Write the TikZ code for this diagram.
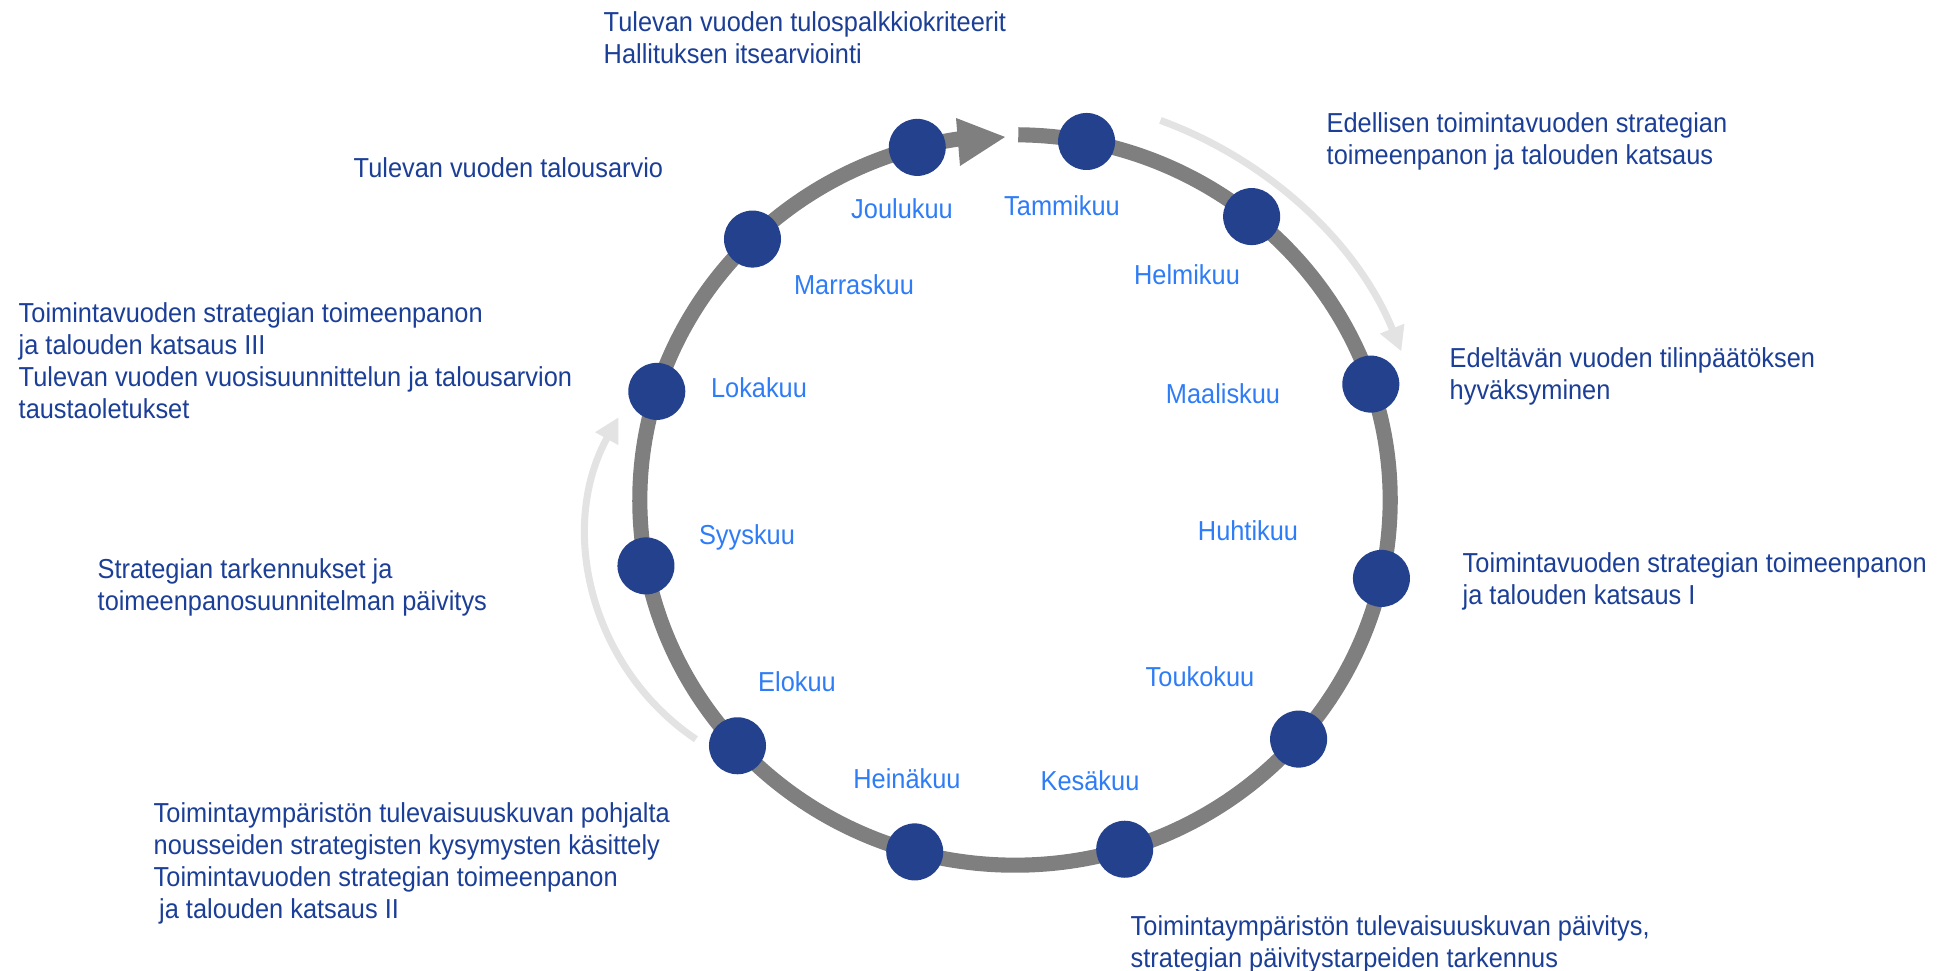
\documentclass[tikz,border=0pt]{standalone}
\usepackage{fontspec}
\setmainfont{Liberation Sans}[FakeStretch=0.925]
\usetikzlibrary{arrows.meta}
\definecolor{dotblue}{HTML}{24418E}
\definecolor{txtblue}{HTML}{1B3E96}
\definecolor{monthblue}{HTML}{2E7CF6}
\definecolor{ringgray}{HTML}{7F7F7F}
\definecolor{paleGray}{HTML}{E3E3E3}
\begin{document}
\begin{tikzpicture}[x=0.01cm,y=0.01cm,
  ring/.style={draw=ringgray, line width=4.3pt},
  dot/.style={circle, fill=dotblue, minimum size=0.57cm, inner sep=0pt},
  month/.style={text=monthblue, font=\fontsize{7.8pt}{9.1pt}\selectfont, anchor=base, inner sep=0pt},
  note/.style={text=txtblue, font=\fontsize{7.8pt}{9.1pt}\selectfont, align=left, anchor=north west, inner sep=0pt},
  cyc/.style={draw=paleGray, line width=2pt, -{Triangle[length=7pt,width=7pt]}}
]
\useasboundingbox (0,0) rectangle (1942,-971);
\coordinate (C) at (1015,-500);
\coordinate (L) at (833,-536);
% light cycle arrows
\draw[cyc] (C) ++(69.5:4.15cm and 4.05cm) arc[start angle=69.5,end angle=21.5,x radius=4.15cm,y radius=4.05cm];
\draw[cyc] (L) ++(236:2.45cm) arc[start angle=236,end angle=151,radius=2.45cm];
% ring
\draw[ring] (C) ++(89.5:3.75cm and 3.65cm) arc[start angle=89.5,end angle=-261.5,x radius=3.75cm,y radius=3.65cm];
\fill[ringgray] (956,-118) -- (960,-166) -- (1005,-137) -- cycle;
% dots
\foreach \n/\a in {tam/79, hel/50.9, maa/18.5, huh/-12.4, tou/-40.9, kes/-73, hei/-105.5, elo/-137.7, syy/-169.6, lok/-197.3, mar/-225.6, jou/-254.9}
  \path (C) ++(\a:3.75cm and 3.65cm) node[dot] (\n) {};
% month labels
\node[month] (ltam) at (1062,-216) {Tammikuu};
\node[month] (lhel) at (1187,-285) {Helmikuu};
\node[month] (lmaa) at (1223,-404) {Maaliskuu};
\node[month] (lhuh) at (1248,-541) {Huhtikuu};
\node[month] (ltou) at (1200,-687) {Toukokuu};
\node[month] (lkes) at (1090,-791) {Kesäkuu};
\node[month] (lhei) at (907,-789) {Heinäkuu};
\node[month] (lelo) at (797,-692) {Elokuu};
\node[month] (lsyy) at (747,-545) {Syyskuu};
\node[month] (llok) at (759,-398) {Lokakuu};
\node[month] (lmar) at (854,-295) {Marraskuu};
\node[month] (ljou) at (902,-219) {Joulukuu};
% notes
\node[note] (n1) at (603,-11) {Tulevan vuoden tulospalkkiokriteerit\\Hallituksen itsearviointi};
\node[note] (n2) at (353,-157) {Tulevan vuoden talousarvio};
\node[note] (n3) at (18,-302) {Toimintavuoden strategian toimeenpanon\\ja talouden katsaus III\\Tulevan vuoden vuosisuunnittelun ja talousarvion\\taustaoletukset};
\node[note] (n4) at (97,-558) {Strategian tarkennukset ja\\toimeenpanosuunnitelman päivitys};
\node[note] (n5) at (153,-802) {Toimintaympäristön tulevaisuuskuvan pohjalta\\nousseiden strategisten kysymysten käsittely\\Toimintavuoden strategian toimeenpanon\\\hspace{0.2em}ja talouden katsaus II};
\node[note] (n6) at (1130,-915) {Toimintaympäristön tulevaisuuskuvan päivitys,\\strategian päivitystarpeiden tarkennus};
\node[note] (n7) at (1326,-112) {Edellisen toimintavuoden strategian\\toimeenpanon ja talouden katsaus};
\node[note] (n8) at (1449,-347) {Edeltävän vuoden tilinpäätöksen\\hyväksyminen};
\node[note] (n9) at (1462,-552) {Toimintavuoden strategian toimeenpanon\\ja talouden katsaus I};
\end{tikzpicture}
\end{document}
